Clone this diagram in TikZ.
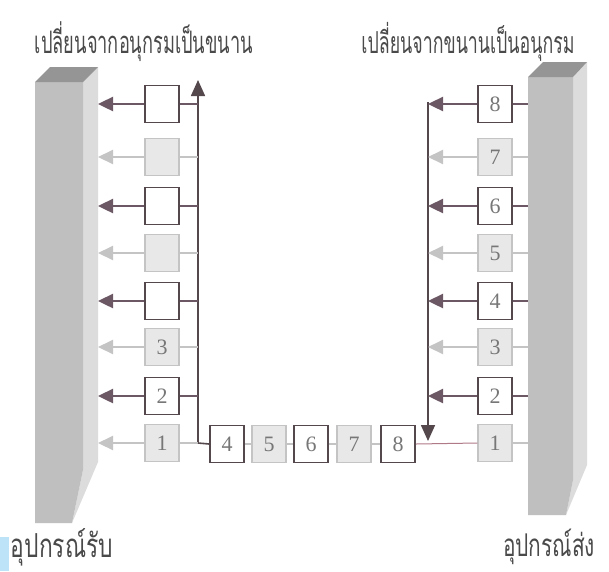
\documentclass[tikz,border=0pt]{standalone}
\usepackage{fontspec}
\usepackage{graphicx}
\setmainfont{Liberation Serif}
\newfontfamily\thaifont[Script=Thai]{Loma}
\usetikzlibrary{arrows.meta}
\definecolor{dk}{HTML}{54484D}
\definecolor{lt}{HTML}{C4C4C4}
\definecolor{ltfill}{HTML}{E8E8E8}
\definecolor{dline}{HTML}{6C5864}
\definecolor{numc}{HTML}{777777}
\definecolor{devfront}{HTML}{BFBFBF}
\definecolor{devside}{HTML}{DCDCDC}
\definecolor{devtop}{HTML}{959595}
\definecolor{txtc}{HTML}{4A4A4A}
\definecolor{serline}{HTML}{B07A88}
\definecolor{edgeblue}{HTML}{BDE3F8}
\tikzset{
  bitd/.style={draw=dk, line width=1.8pt, fill=white, minimum width=34pt, minimum height=37pt, inner sep=0pt, font=\fontsize{22}{22}\selectfont, text=numc},
  bitl/.style={draw=lt, line width=1.5pt, fill=ltfill, minimum width=34pt, minimum height=37pt, inner sep=0pt, font=\fontsize{22}{22}\selectfont, text=numc},
  arrd/.style={draw=dline, fill=dline, line width=2.4pt, -{Triangle[length=15pt,width=14pt]}},
  arrl/.style={draw=lt, fill=lt, line width=2pt, -{Triangle[length=15pt,width=14pt]}},
  lnd/.style={draw=dline, line width=2.4pt},
  lnl/.style={draw=lt, line width=2pt},
  bus/.style={draw=dk, fill=dk, line width=1.6pt, -{Triangle[length=16pt,width=14pt]}},
  busln/.style={draw=dk, line width=1.6pt},
  serial/.style={draw=serline, line width=1pt},
  lab/.style={inner sep=0pt, text=txtc}
}
\begin{document}
\begin{tikzpicture}[x=1pt,y=-1pt]
\useasboundingbox (0,0) rectangle (609,571);
\fill[white] (0,0) rectangle (609,571);
\fill[edgeblue] (0,537) rectangle (9,571);
% left device
\fill[devside] (83,82) -- (98,67) -- (98,462) -- (72,523) -- (83,470) -- cycle;
\fill[devfront] (35,82) -- (83,82) -- (83,470) -- (72,523) -- (35,523) -- cycle;
\fill[devtop] (35,82) -- (50,67) -- (98,67) -- (83,82) -- cycle;
% right device
\fill[devside] (573,77) -- (587,62) -- (587,465) -- (566,515) -- (573,480) -- cycle;
\fill[devfront] (528,77) -- (573,77) -- (573,480) -- (566,515) -- (528,515) -- cycle;
\fill[devtop] (528,77) -- (543,62) -- (587,62) -- (573,77) -- cycle;
\coordinate (Ledge) at (98,0);
\coordinate (Redge) at (528,0);
% titles
\node[lab] (tl) at (144,42) {\scalebox{1}[1.7]{\resizebox{218pt}{!}{\thaifont เปลี่ยนจากอนุกรมเป็นขนาน}}};
\node[lab] (tr) at (468,42) {\scalebox{1}[1.7]{\resizebox{213pt}{!}{\thaifont เปลี่ยนจากขนานเป็นอนุกรม}}};
\node[lab] (bl) at (62,547) {\scalebox{1}[1.45]{\resizebox{102pt}{!}{\thaifont อุปกรณ์รับ}}};
\node[lab] (br) at (549,547) {\scalebox{1}[1.5]{\resizebox{92pt}{!}{\thaifont อุปกรณ์ส่ง}}};
% left column
\node[bitd] (lb1) at (162,104) {};
\node[bitl] (lb2) at (162,157) {};
\node[bitd] (lb3) at (162,206) {};
\node[bitl] (lb4) at (162,253) {};
\node[bitd] (lb5) at (162,301) {};
\node[bitl] (lb6) at (162,347) {3};
\node[bitd] (lb7) at (162,396) {2};
\node[bitl] (lb8) at (162,443) {1};
% right column
\node[bitd] (rb1) at (495,104) {8};
\node[bitl] (rb2) at (495,157) {7};
\node[bitd] (rb3) at (495,206) {6};
\node[bitl] (rb4) at (495,253) {5};
\node[bitd] (rb5) at (495,301) {4};
\node[bitl] (rb6) at (495,347) {3};
\node[bitd] (rb7) at (495,396) {2};
\node[bitl] (rb8) at (495,443) {1};
% serial row
\node[bitd] (b4) at (227,444) {4};
\node[bitl] (b5) at (269,444) {5};
\node[bitd] (b6) at (311,444) {6};
\node[bitl] (b7) at (354,444) {7};
\node[bitd] (b8) at (398,444) {8};
% left bus
\coordinate (lvtop) at (198,80);
\coordinate (lvbot) at (198,443);
\draw[bus] (lvbot) -- (lvtop);
\draw[lnd] (lb1.east) -- (lb1.east -| lvtop);
\draw[lnl] (lb2.east) -- (lb2.east -| lvtop);
\draw[lnd] (lb3.east) -- (lb3.east -| lvtop);
\draw[lnl] (lb4.east) -- (lb4.east -| lvtop);
\draw[lnd] (lb5.east) -- (lb5.east -| lvtop);
\draw[lnl] (lb6.east) -- (lb6.east -| lvtop);
\draw[lnd] (lb7.east) -- (lb7.east -| lvtop);
\draw[lnl] (lb8.east) -- (lvbot);
\draw[busln] (lvbot) -- (b4.west);
% left arrows to receiver
\draw[arrd] (lb1.west) -- (lb1.west -| Ledge);
\draw[arrl] (lb2.west) -- (lb2.west -| Ledge);
\draw[arrd] (lb3.west) -- (lb3.west -| Ledge);
\draw[arrl] (lb4.west) -- (lb4.west -| Ledge);
\draw[arrd] (lb5.west) -- (lb5.west -| Ledge);
\draw[arrl] (lb6.west) -- (lb6.west -| Ledge);
\draw[arrd] (lb7.west) -- (lb7.west -| Ledge);
\draw[arrl] (lb8.west) -- (lb8.west -| Ledge);
% serial connectors
\draw[lnl,line width=1.5pt] (b4.east) -- (b5.west);
\draw[lnl,line width=1.5pt] (b5.east) -- (b6.west);
\draw[lnl,line width=1.5pt] (b6.east) -- (b7.west);
\draw[lnl,line width=1.5pt] (b7.east) -- (b8.west);
\draw[serial] (b8.east) -- (rb8.west);
% right bus
\coordinate (rvtop) at (428,102);
\coordinate (rvbot) at (428,441);
\draw[bus] (rvtop) -- (rvbot);
\draw[arrd] (rb1.west) -- (rb1.west -| rvtop);
\draw[arrl] (rb2.west) -- (rb2.west -| rvtop);
\draw[arrd] (rb3.west) -- (rb3.west -| rvtop);
\draw[arrl] (rb4.west) -- (rb4.west -| rvtop);
\draw[arrd] (rb5.west) -- (rb5.west -| rvtop);
\draw[arrl] (rb6.west) -- (rb6.west -| rvtop);
\draw[arrd] (rb7.west) -- (rb7.west -| rvtop);
% sender to right boxes
\draw[lnd] (Redge |- rb1) -- (rb1.east);
\draw[lnl] (Redge |- rb2) -- (rb2.east);
\draw[lnd] (Redge |- rb3) -- (rb3.east);
\draw[lnl] (Redge |- rb4) -- (rb4.east);
\draw[lnd] (Redge |- rb5) -- (rb5.east);
\draw[lnl] (Redge |- rb6) -- (rb6.east);
\draw[lnd] (Redge |- rb7) -- (rb7.east);
\draw[lnl] (Redge |- rb8) -- (rb8.east);
\end{tikzpicture}
\end{document}
